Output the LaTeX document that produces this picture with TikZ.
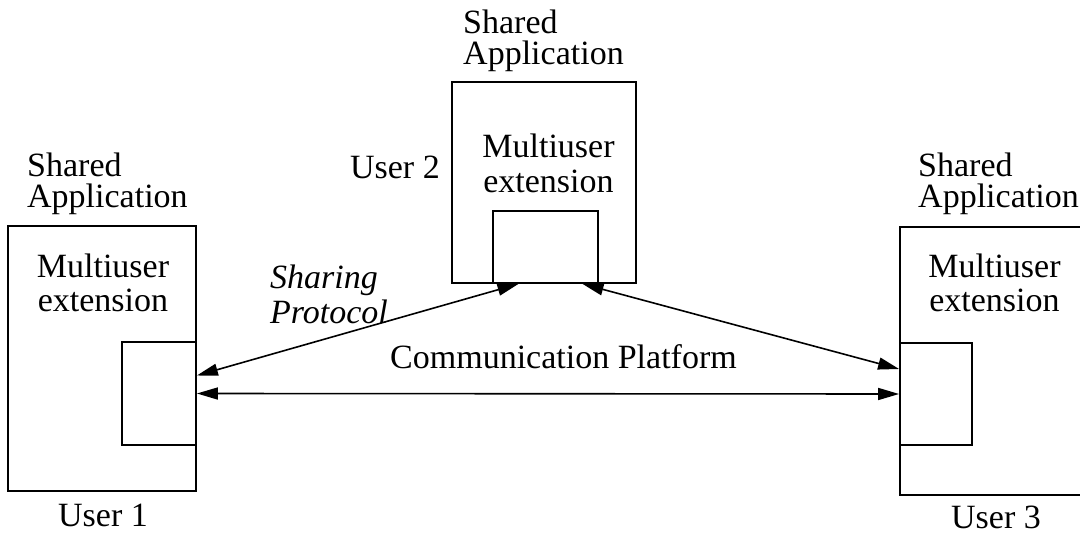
\documentclass[tikz,border=0pt]{standalone}
\usepackage{fontspec}
\setmainfont{Liberation Serif}
\usetikzlibrary{arrows.meta}
\tikzset{
    appbox/.style={draw, line width=1.8pt, inner sep=0pt},
    extbox/.style={draw, line width=1.8pt, inner sep=0pt},
    lbl/.style={inner sep=0pt, font=\fontsize{34}{31}\selectfont},
    link/.style={line width=1.6pt, {Triangle[length=21pt,width=12pt]}-{Triangle[length=21pt,width=12pt]}},
}

\begin{document}
\begin{tikzpicture}[x=1pt,y=-1pt]
    \useasboundingbox (0,0) rectangle (1080,535);
    % the three application windows
    \node[appbox, minimum width=188, minimum height=265] (app1) at (102,358.5) {};
    \node[appbox, minimum width=184, minimum height=201] (app2) at (544,182.5) {};
    \node[appbox, minimum width=190, minimum height=268] (app3) at (995,361) {};
    % multiuser extension parts
    \node[extbox, minimum width=74, minimum height=103] (ext1) at (159,393.5) {};
    \node[extbox, minimum width=105, minimum height=72] (ext2) at (545.5,247) {};
    \node[extbox, minimum width=72, minimum height=102] (ext3) at (936,394) {};
    % labels (base = baseline of the last line)
    \node[lbl, anchor=base west, align=left] (shared1) at (27,207) {Shared\\Application};
    \node[lbl, anchor=base west, align=left] (shared2) at (463,65) {Shared\\Application};
    \node[lbl, anchor=base west, align=left] (shared3) at (918,207) {Shared\\Application};
    \node[lbl, anchor=base, align=center, font=\fontsize{34}{34}\selectfont] (multi1) at (103,311) {Multiuser\\extension};
    \node[lbl, anchor=base, align=center, font=\fontsize{34}{35}\selectfont] (multi2) at (548.5,192) {Multiuser\\extension};
    \node[lbl, anchor=base, align=center, font=\fontsize{34}{34}\selectfont] (multi3) at (994.5,311) {Multiuser\\extension};
    \node[lbl, anchor=base] (user1) at (103,526) {User 1};
    \node[lbl, anchor=base east] (user2) at (440,178) {User 2};
    \node[lbl, anchor=base] (user3) at (996,528) {User 3};
    \node[lbl, anchor=base west, align=left, font=\fontsize{34}{35}\selectfont\itshape] (sharing) at (270,323) {Sharing\\Protocol};
    \node[lbl, anchor=base west] (comm) at (390,368) {Communication Platform};
    % links between the extensions
    \draw[link] ([yshift=18]ext1.east) -- ([xshift=-27]ext2.south);
    \draw[link] ([xshift=37]ext2.south) -- ([yshift=25]ext3.west);
    \draw[link] (ext1.east) -- (ext3.west);
\end{tikzpicture}
\end{document}
